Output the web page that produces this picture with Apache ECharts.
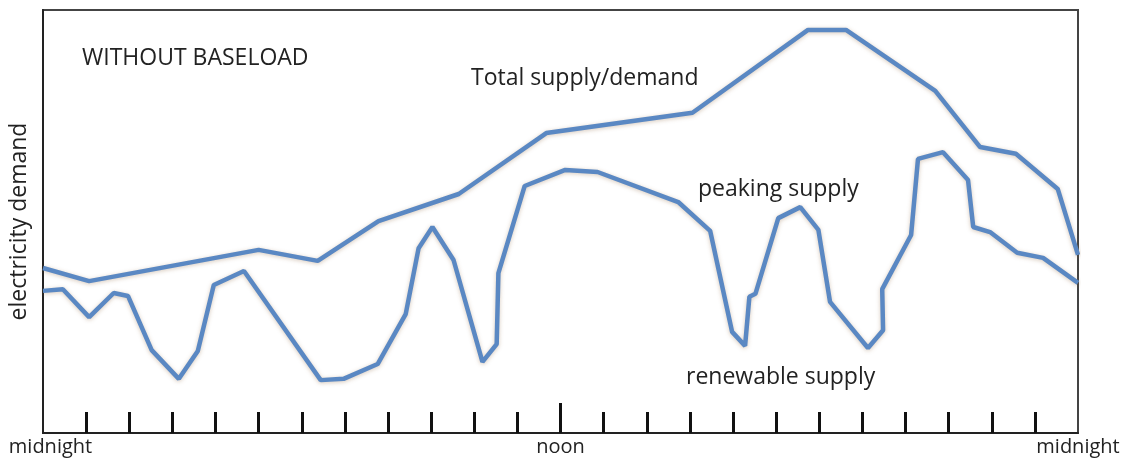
<!DOCTYPE html>
<html>
<head>
<meta charset="utf-8">
<script src="https://cdn.jsdelivr.net/npm/echarts@6/dist/echarts.min.js"></script>
<style>
  html, body { margin: 0; padding: 0; background: #fff; }
  #chart { width: 1124px; height: 459px; }
</style>
</head>
<body>
<div id="chart"></div>
<script>
// hours since midnight and demand level (0-100)
var totalHours  = [0, 1.07, 5.0, 6.37, 7.78, 9.64, 11.67, 15.06, 17.74, 18.62, 20.69, 21.73, 22.56, 23.53, 24];
var totalValues = [39.0, 35.9, 43.3, 40.7, 50.1, 56.5, 70.9, 75.7, 95.3, 95.3, 80.9, 67.6, 66.0, 57.7, 42.1];

var renewHours  = [0, 0.46, 1.07, 1.64, 1.97, 2.52, 3.15, 3.59, 3.96, 4.66, 6.44, 6.97, 7.76, 8.41, 8.71, 9.03,
                   9.52, 10.19, 10.52, 10.56, 11.17, 12.11, 12.86, 14.73, 15.47, 15.98, 16.28, 16.38, 16.52,
                   17.05, 17.56, 17.98, 18.25, 19.13, 19.48, 19.46, 20.13, 20.29, 20.87, 21.45, 21.57, 21.96,
                   22.59, 23.19, 24];
var renewValues = [33.6, 34.0, 27.4, 33.1, 32.4, 19.6, 12.8, 19.4, 35.0, 38.3, 12.5, 12.8, 16.3, 28.1, 43.7, 48.7,
                   40.9, 16.8, 21.0, 37.8, 58.4, 62.2, 61.7, 54.6, 47.8, 23.9, 20.6, 32.2, 32.9,
                   50.8, 53.4, 48.0, 31.0, 20.1, 24.3, 34.0, 46.8, 64.8, 66.4, 59.8, 48.7, 47.5,
                   42.6, 41.4, 35.5];

var hourTicks = [1, 2, 3, 4, 5, 6, 7, 8, 9, 10, 11, 12, 13, 14, 15, 16, 17, 18, 19, 20, 21, 22, 23];
var timeLabels = { 0: 'midnight', 12: 'noon', 24: 'midnight' };

// annotation texts, x = left edge, y = middle of the letters
var notes = [
  { text: 'WITHOUT BASELOAD', x: 82, y: 57.5 },
  { text: 'Total supply/demand', x: 471, y: 77 },
  { text: 'peaking supply', x: 698, y: 188.5 },
  { text: 'renewable supply', x: 686, y: 376.5 }
];

function pairs(xs, ys) {
  return xs.map(function (x, i) { return [x, ys[i]]; });
}

var font = '"Open Sans", sans-serif';
var lineStyle = {
  color: '#5a88c3',
  width: 4.5,
  shadowColor: 'rgba(140, 100, 60, 0.35)',
  shadowBlur: 4,
  shadowOffsetY: 1
};

var myChart = echarts.init(document.getElementById('chart'));

var option = {
  backgroundColor: '#fff',
  animation: false,
  grid: {
    left: 42, right: 46, top: 10, bottom: 26,
    show: true,
    borderColor: '#444',
    borderWidth: 2
  },
  xAxis: [
    {
      type: 'value',
      min: 0, max: 24, interval: 1,
      splitLine: { show: false },
      axisLine: { show: true, lineStyle: { color: '#222', width: 2 } },
      axisTick: {
        show: true, inside: true, length: 21,
        customValues: hourTicks,
        lineStyle: { color: '#111', width: 3 }
      },
      axisLabel: {
        show: true,
        customValues: [0, 12, 24],
        margin: 4,
        fontFamily: font,
        fontSize: 20,
        color: '#222',
        formatter: function (v) {
          return v === 0 ? '{l|midnight}' : timeLabels[v];
        },
        rich: { l: { fontFamily: font, fontSize: 20, color: '#222', padding: [0, 0, 0, 15] } }
      }
    },
    {
      type: 'value',
      position: 'bottom',
      min: 0, max: 24, interval: 1,
      splitLine: { show: false },
      axisLine: { show: false },
      axisLabel: { show: false },
      axisTick: {
        show: true, inside: true, length: 30,
        customValues: [12],
        lineStyle: { color: '#111', width: 3 }
      }
    }
  ],
  yAxis: {
    type: 'value',
    min: 0, max: 100,
    splitLine: { show: false },
    axisTick: { show: false },
    axisLabel: { show: false },
    axisLine: { show: true, lineStyle: { color: '#222', width: 2 } },
    name: 'electricity demand',
    nameLocation: 'middle',
    nameGap: 12,
    nameTextStyle: { fontFamily: font, fontSize: 23, color: '#222' }
  },
  graphic: notes.map(function (n) {
    return {
      type: 'text',
      left: n.x,
      top: n.y - 10.5,
      style: { text: n.text, fontFamily: font, fontSize: 23, fill: '#222' }
    };
  }),
  series: [
    {
      name: 'Total supply/demand',
      type: 'line',
      data: pairs(totalHours, totalValues),
      symbol: 'none',
      lineStyle: lineStyle
    },
    {
      name: 'renewable supply',
      type: 'line',
      data: pairs(renewHours, renewValues),
      symbol: 'none',
      lineStyle: lineStyle
    }
  ]
};

myChart.setOption(option);
</script>
</body>
</html>
